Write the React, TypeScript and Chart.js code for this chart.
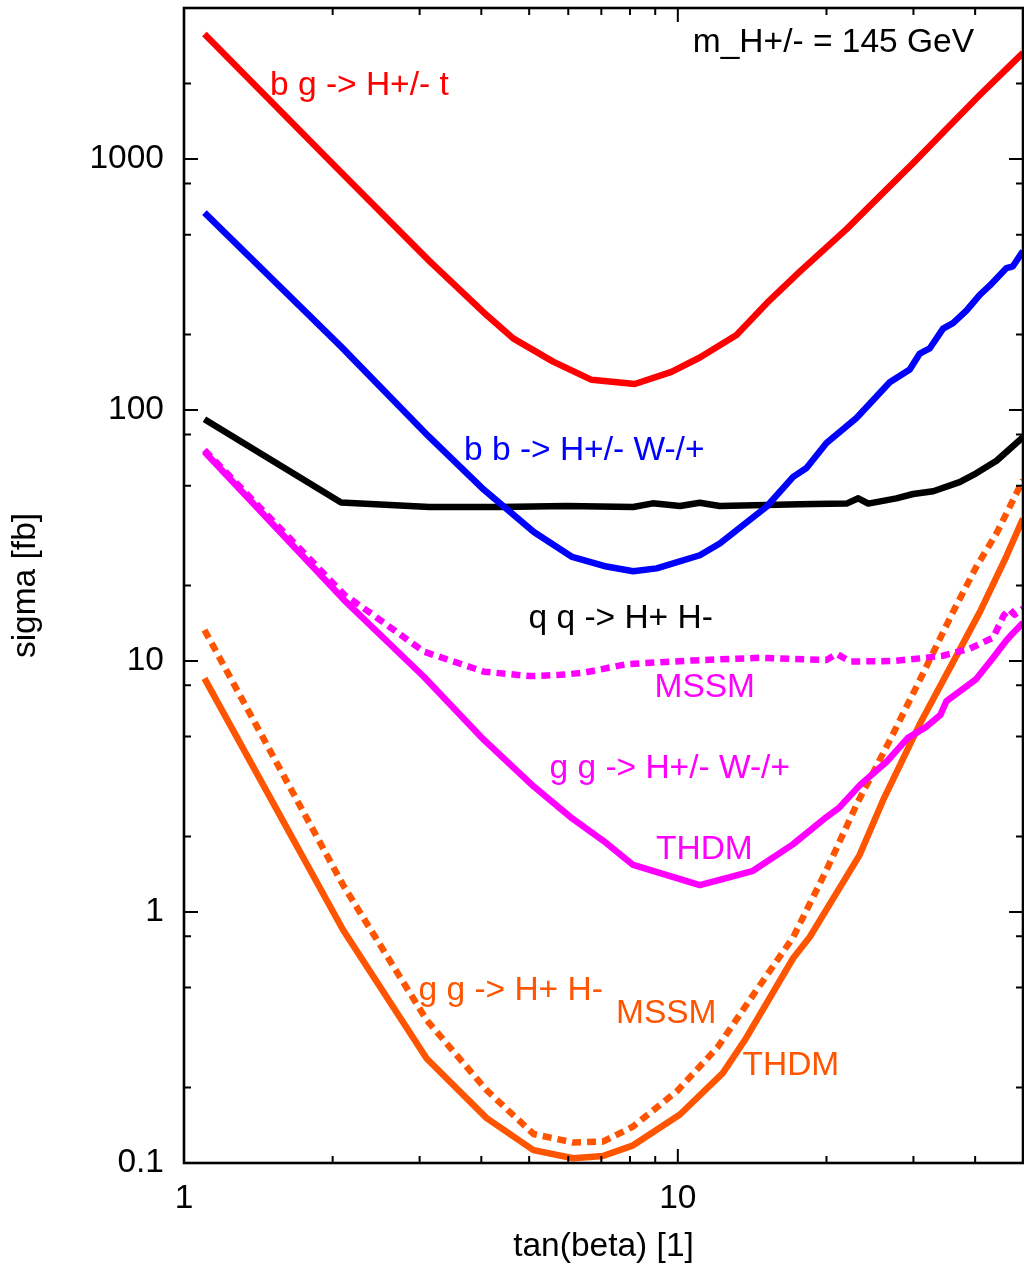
import React, { useEffect, useRef } from "react";
import { Chart, registerables } from "chart.js";

Chart.register(...registerables);

const FONT = "'Liberation Sans', Arial, Helvetica, sans-serif";
const FONT_SIZE = 33.5;

const RED = "#ff0000";
const BLUE = "#0000ff";
const BLACK = "#000000";
const MAGENTA = "#ff00ff";
const ORANGE = "#ff5400";

// b g -> H+/- t
const bgHtX = [1.1, 2.08, 3.13, 4.11, 4.64, 5.59, 6.69, 8.18, 9.71, 11.08, 13.15, 15.12, 17.66, 21.96, 25.64, 29.95, 34.99, 40.87, 50];
const bgHtY = [3150, 886, 395, 238, 193, 156, 132, 127, 142, 162, 199, 266, 356, 526, 712, 964, 1317, 1799, 2650];

// b b -> H+/- W-/+
const bbHWX = [1.1, 2.08, 3.13, 4.05, 5.11, 6.11, 7.17, 8.12, 9.06, 11.08, 12.16, 15.12, 17.12, 18.22, 20.0, 23.0, 24.47, 26.86, 29.49, 30.9, 32.36, 34.44, 36.08, 38.4, 40.87, 42.8, 46.3, 47.7, 50];
const bbHWY = [612, 179, 78.5, 48.1, 32.7, 26.0, 23.8, 22.8, 23.4, 26.4, 29.4, 41.2, 54.2, 58.8, 73.9, 93.0, 106, 129, 145, 168, 176, 211, 222, 249, 288, 313, 368, 374, 430];

// q q -> H+ H-
const qqHHX = [1.1, 2.08, 3.14, 4.36, 5.95, 8.12, 8.9, 10.1, 11.08, 12.16, 17.66, 18.8, 21.96, 23.2, 24.3, 27.7, 29.95, 32.9, 37.2, 40.2, 44.2, 50];
const qqHHY = [91.9, 42.8, 41.1, 41.1, 41.5, 41.1, 42.5, 41.5, 42.7, 41.5, 42.1, 42.2, 42.4, 44.5, 42.4, 44.5, 46.3, 47.5, 51.6, 56.0, 62.8, 78.0];

// g g -> H+/- W-/+ (MSSM, dotted)
const ggHWmssmX = [1.1, 2.11, 2.39, 3.06, 4.05, 5.03, 5.77, 6.45, 7.87, 10.74, 14.66, 20.0, 20.96, 22.3, 27.3, 30.9, 34.4, 39.0, 43.5, 45.7, 46.9, 48.1, 50];
const ggHWmssmY = [69.3, 18.4, 15.5, 10.9, 9.07, 8.71, 8.81, 8.98, 9.72, 10.06, 10.3, 10.1, 10.7, 9.96, 10.0, 10.25, 10.5, 11.2, 12.4, 15.2, 16.1, 15.3, 16.2];

// g g -> H+/- W-/+ (THDM, solid)
const ggHWthdmX = [1.1, 2.11, 3.06, 4.05, 5.11, 6.11, 7.17, 8.12, 11.08, 13.15, 14.2, 17.1, 20.0, 21.2, 23.4, 26.5, 29.2, 31.9, 34.0, 35.0, 40.2, 43.5, 46.3, 47.7, 50];
const ggHWthdmY = [68.2, 17.5, 8.66, 4.85, 3.16, 2.36, 1.88, 1.54, 1.28, 1.40, 1.46, 1.86, 2.39, 2.60, 3.21, 3.98, 4.93, 5.48, 6.09, 6.93, 8.48, 10.3, 12.1, 12.9, 14.2];

// g g -> H+ H- (THDM, solid)
const ggHHthdmX = [1.1, 2.1, 3.1, 4.1, 5.1, 6.14, 7.05, 8.12, 10.1, 12.33, 13.67, 17.13, 18.5, 23.35, 26.04, 30.9, 36.08, 40.9, 46.3, 50];
const ggHHthdmY = [8.53, 0.848, 0.261, 0.151, 0.1126, 0.1044, 0.1066, 0.1176, 0.156, 0.228, 0.309, 0.656, 0.795, 1.69, 2.79, 5.61, 9.9, 15.7, 26.2, 37.0];

// g g -> H+ H- (MSSM, dotted)
const ggHHmssmX = [1.1, 2.1, 3.1, 4.1, 5.1, 6.14, 7.05, 8.12, 9.97, 12.05, 13.98, 17.13, 20.0, 23.1, 26.9, 30.9, 36.08, 40.2, 44.2, 50];
const ggHHmssmY = [13.3, 1.28, 0.371, 0.195, 0.1305, 0.1207, 0.1216, 0.1398, 0.1936, 0.290, 0.446, 0.795, 1.47, 2.72, 4.85, 8.40, 15.7, 23.7, 32.3, 52.6];

// axes
const X_MIN = 1;
const X_MAX = 50;
const Y_MIN = 0.1;
const Y_MAX = 4000;
const X_TICKS = [1, 2, 3, 4, 5, 6, 7, 8, 9, 10, 20, 30, 40];
const X_MAJOR = [1, 10];
const Y_TICKS = [0.1, 0.2, 0.5, 0.8, 1, 2, 5, 8, 10, 20, 50, 80, 100, 200, 500, 800, 1000, 2000];
const Y_MAJOR = [0.1, 1, 10, 100, 1000];

const X_TITLE = "tan(beta) [1]";
const Y_TITLE = "sigma [fb]";

// text annotations (canvas pixel anchor, baseline)
const LABELS = [
  { text: "m_H+/- = 145 GeV", color: BLACK, x: 974, y: 52, align: "right" },
  { text: "b g -> H+/- t", color: RED, x: 270, y: 95, align: "left" },
  { text: "b b -> H+/- W-/+", color: BLUE, x: 464, y: 460, align: "left" },
  { text: "q q -> H+ H-", color: BLACK, x: 528.5, y: 628, align: "left" },
  { text: "MSSM", color: MAGENTA, x: 654.5, y: 697, align: "left" },
  { text: "g g -> H+/- W-/+", color: MAGENTA, x: 549.5, y: 778, align: "left" },
  { text: "THDM", color: MAGENTA, x: 656, y: 858.5, align: "left" },
  { text: "g g -> H+ H-", color: ORANGE, x: 418.5, y: 999.5, align: "left" },
  { text: "MSSM", color: ORANGE, x: 616, y: 1022.5, align: "left" },
  { text: "THDM", color: ORANGE, x: 742.5, y: 1074.5, align: "left" },
];

const pts = (xs: number[], ys: number[]) => xs.map((x, i) => ({ x, y: ys[i] }));

const DOTS = [9, 6];
const SERIES = [
  { label: "b g -> H+/- t", xs: bgHtX, ys: bgHtY, color: RED, dash: [] as number[] },
  { label: "b b -> H+/- W-/+", xs: bbHWX, ys: bbHWY, color: BLUE, dash: [] as number[] },
  { label: "q q -> H+ H-", xs: qqHHX, ys: qqHHY, color: BLACK, dash: [] as number[] },
  { label: "g g -> H+/- W-/+ MSSM", xs: ggHWmssmX, ys: ggHWmssmY, color: MAGENTA, dash: DOTS },
  { label: "g g -> H+/- W-/+ THDM", xs: ggHWthdmX, ys: ggHWthdmY, color: MAGENTA, dash: [] as number[] },
  { label: "g g -> H+ H- MSSM", xs: ggHHmssmX, ys: ggHHmssmY, color: ORANGE, dash: DOTS },
  { label: "g g -> H+ H- THDM", xs: ggHHthdmX, ys: ggHHthdmY, color: ORANGE, dash: [] as number[] },
];

const framePlugin = {
  id: "gnuplotFrame",
  afterDraw(chart: any) {
    const { ctx, chartArea: a, scales } = chart;
    const xs = scales.x;
    const ys = scales.y;
    ctx.save();
    ctx.strokeStyle = BLACK;
    ctx.lineWidth = 2;
    ctx.lineCap = "butt";
    ctx.beginPath();
    for (const v of X_TICKS) {
      const p = xs.getPixelForValue(v);
      const len = X_MAJOR.includes(v) ? 14 : 7;
      ctx.moveTo(p, a.bottom);
      ctx.lineTo(p, a.bottom - len);
      ctx.moveTo(p, a.top);
      ctx.lineTo(p, a.top + len);
    }
    for (const v of Y_TICKS) {
      const p = ys.getPixelForValue(v);
      const len = Y_MAJOR.includes(v) ? 14 : 7;
      ctx.moveTo(a.left, p);
      ctx.lineTo(a.left + len, p);
      ctx.moveTo(a.right, p);
      ctx.lineTo(a.right - len, p);
    }
    ctx.stroke();
    ctx.lineWidth = 2.6;
    ctx.strokeRect(a.left, a.top, a.right - a.left, a.bottom - a.top);

    ctx.font = `${FONT_SIZE}px ${FONT}`;
    ctx.textBaseline = "alphabetic";
    for (const l of LABELS) {
      ctx.fillStyle = l.color;
      ctx.textAlign = l.align as CanvasTextAlign;
      ctx.fillText(l.text, l.x, l.y);
    }
    ctx.restore();
  },
};

export default function App() {
  const canvasRef = useRef<HTMLCanvasElement | null>(null);

  useEffect(() => {
    const canvas = canvasRef.current;
    if (!canvas) return;
    const font = { family: FONT, size: FONT_SIZE };
    const chart = new Chart(canvas, {
      type: "scatter",
      data: {
        datasets: SERIES.map((s) => ({
          label: s.label,
          data: pts(s.xs, s.ys),
          showLine: true,
          borderColor: s.color,
          backgroundColor: s.color,
          borderWidth: 6.5,
          borderDash: s.dash,
          borderCapStyle: "butt",
          borderJoinStyle: "round",
          pointRadius: 0,
          pointHoverRadius: 0,
          tension: 0,
          fill: false,
          clip: 0,
        })),
      },
      options: {
        responsive: false,
        maintainAspectRatio: false,
        devicePixelRatio: 1,
        animation: false,
        events: [],
        layout: { padding: { left: 0, top: 8, right: 1, bottom: 0 } },
        plugins: {
          legend: { display: false },
          tooltip: { enabled: false },
          title: { display: false },
        },
        scales: {
          x: {
            type: "logarithmic",
            position: "bottom",
            min: X_MIN,
            max: X_MAX,
            grid: { display: false, drawTicks: false, tickLength: 0 },
            border: { display: false },
            afterBuildTicks: (s: any) => {
              s.ticks = X_TICKS.map((v) => ({ value: v }));
            },
            afterFit: (s: any) => {
              s.height = 105;
              s.paddingLeft = 0;
              s.paddingRight = 0;
            },
            ticks: {
              autoSkip: false,
              maxRotation: 0,
              minRotation: 0,
              padding: 16,
              color: BLACK,
              font,
              callback: (v: any) => (X_MAJOR.includes(Number(v)) ? String(v) : ""),
            },
            title: {
              display: true,
              text: X_TITLE,
              color: BLACK,
              font,
              padding: { top: 0, bottom: 1 },
            },
          },
          y: {
            type: "logarithmic",
            position: "left",
            min: Y_MIN,
            max: Y_MAX,
            grid: { display: false, drawTicks: false, tickLength: 0 },
            border: { display: false },
            afterBuildTicks: (s: any) => {
              s.ticks = Y_TICKS.map((v) => ({ value: v }));
            },
            afterFit: (s: any) => {
              s.width = 184;
              s.paddingTop = 0;
              s.paddingBottom = 0;
            },
            ticks: {
              autoSkip: false,
              padding: 20,
              color: BLACK,
              font,
              callback: (v: any) => (Y_MAJOR.includes(Number(v)) ? String(v) : ""),
            },
            title: {
              display: true,
              text: Y_TITLE,
              color: BLACK,
              font,
              padding: { top: 6, bottom: 0 },
            },
          },
        },
      },
      plugins: [framePlugin],
    } as any);
    return () => chart.destroy();
  }, []);

  return (
    <div style={{ position: "absolute", left: 0, top: 0, width: 1024, height: 1268, background: "#fff" }}>
      <canvas ref={canvasRef} width={1024} height={1268} style={{ display: "block", width: 1024, height: 1268 }} />
    </div>
  );
}
